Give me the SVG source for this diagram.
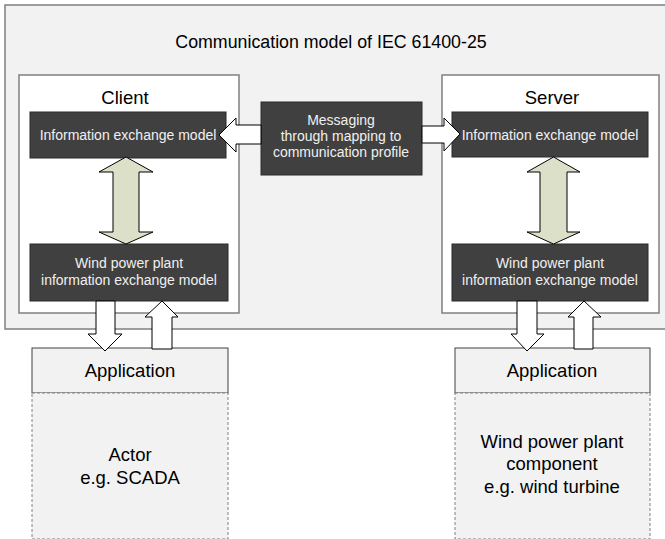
<svg xmlns="http://www.w3.org/2000/svg" width="665" height="539" viewBox="0 0 665 539">
<style>
text{font-family:"Liberation Sans",Arial,sans-serif;text-anchor:middle}
.big{font-size:18.5px;fill:#000}
.title{font-size:17.8px;fill:#000}
.sm{font-size:14px;fill:#f0f0f0}
.frame{fill:#f2f2f2;stroke:#808080;stroke-width:1.5}
.side{fill:#fff;stroke:#808080;stroke-width:1.5}
.dark{fill:#404040;stroke:#2a2a2a;stroke-width:1}
.app{fill:#f2f2f2;stroke:#404040;stroke-width:1}
.actor{fill:#f2f2f2;stroke:#808080;stroke-width:1;stroke-dasharray:3,2}
.wa{fill:#fff;stroke:#000;stroke-width:1}
.ga{fill:#dde0c9;stroke:#000;stroke-width:1}
</style>
<g id="outer">
<rect class="frame" x="5" y="5" width="670" height="324"/>
<text class="title" x="331" y="48">Communication model of IEC 61400-25</text>
</g>
<g id="client">
<rect class="side" x="19" y="75" width="220" height="238"/>
<text class="big" x="125" y="104">Client</text>
</g>
<g id="server">
<rect class="side" x="442" y="75" width="217" height="238"/>
<text class="big" x="552" y="104">Server</text>
</g>
<g id="client-iem">
<rect class="dark" x="30" y="112" width="196" height="46"/>
<text class="sm" x="128" y="140">Information exchange model</text>
</g>
<g id="client-wpp">
<rect class="dark" x="30" y="244" width="198" height="57"/>
<text class="sm" x="129" y="268">Wind power plant</text>
<text class="sm" x="129" y="285">information exchange model</text>
</g>
<g id="messaging">
<rect class="dark" x="261" y="102" width="161" height="73"/>
<text class="sm" x="341" y="125">Messaging</text>
<text class="sm" x="341" y="141">through mapping to</text>
<text class="sm" x="341" y="157">communication profile</text>
</g>
<g id="server-iem">
<rect class="dark" x="452" y="112" width="196" height="45"/>
<text class="sm" x="550" y="140">Information exchange model</text>
</g>
<g id="server-wpp">
<rect class="dark" x="452" y="244" width="196" height="57"/>
<text class="sm" x="550" y="268">Wind power plant</text>
<text class="sm" x="550" y="285">information exchange model</text>
</g>
<g id="client-app">
<rect class="app" x="32" y="348" width="196" height="45"/>
<text class="big" x="130" y="377">Application</text>
</g>
<g id="client-actor">
<rect class="actor" x="32" y="393" width="196" height="146"/>
<text class="big" x="130" y="461">Actor</text>
<text class="big" x="130" y="484">e.g. SCADA</text>
</g>
<g id="server-app">
<rect class="app" x="455" y="348" width="195" height="45"/>
<text class="big" x="552" y="377">Application</text>
</g>
<g id="server-actor">
<rect class="actor" x="455" y="393" width="195" height="146"/>
<text class="big" x="552" y="448">Wind power plant</text>
<text class="big" x="552" y="470">component</text>
<text class="big" x="552" y="493">e.g. wind turbine</text>
</g>
<g id="connectors">
<polygon class="wa" points="219,135 236,118 236,125 261,125 261,144 236,144 236,152"/>
<polygon class="wa" points="422,126 444,126 444,118 460,134 444,151 444,143 422,143"/>
<polygon class="ga" points="126,157 153,172 139,172 139,232 153,232 126,244 99,232 113,232 113,172 99,172"/>
<polygon class="ga" points="553.5,157 580,172 567,172 567,232 580,232 553.5,244 527,232 540,232 540,172 527,172"/>
<polygon class="wa" points="96,301 115,301 115,334 122,334 105,351 88,334 96,334"/>
<polygon class="wa" points="162,301 178,317 172,317 172,349 152,349 152,317 145,317"/>
<polygon class="wa" points="517,301 537,301 537,334 544,334 527,351 511,334 517,334"/>
<polygon class="wa" points="584,301 601,317 593,317 593,349 574,349 574,317 568,317"/>
</g>
</svg>
